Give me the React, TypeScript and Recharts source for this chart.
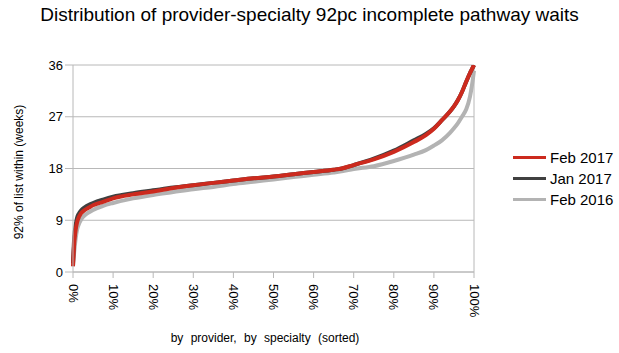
import React from 'react';
import { LineChart, Line, XAxis, YAxis, CartesianGrid, ReferenceLine } from 'recharts';

// percentile of provider-specialties (sorted)
const pct = [0, 0.3, 0.7, 1, 1.5, 2, 3, 4, 5, 7.5, 10, 15, 20, 25, 30, 35, 40, 45, 50, 55, 60, 65, 67, 70, 75, 80, 85, 88, 90, 92, 94, 95, 96, 97, 98, 99, 99.5, 100];

const feb2017 = [1, 5, 7.5, 8.6, 9.6, 10.2, 10.8, 11.2, 11.6, 12.2, 12.8, 13.5, 14.0, 14.6, 15.1, 15.5, 15.9, 16.3, 16.6, 17.0, 17.4, 17.8, 18.0, 18.6, 19.6, 20.9, 22.6, 23.8, 24.9, 26.4, 27.9, 28.8, 29.9, 31.3, 33.0, 34.6, 35.3, 36];
const jan2017 = [1.5, 6, 8.3, 9.4, 10.2, 10.7, 11.3, 11.7, 12.0, 12.6, 13.1, 13.7, 14.2, 14.7, 15.1, 15.5, 15.9, 16.3, 16.6, 17.0, 17.4, 17.8, 18.0, 18.6, 19.7, 21.1, 22.9, 24.0, 25.0, 26.4, 27.9, 28.8, 29.9, 31.3, 33.0, 34.6, 35.3, 36];
const feb2016 = [1, 3.5, 6, 7.3, 8.4, 9.1, 9.9, 10.4, 10.8, 11.5, 12.0, 12.8, 13.4, 13.9, 14.4, 14.8, 15.3, 15.7, 16.1, 16.5, 16.9, 17.3, 17.5, 17.9, 18.4, 19.3, 20.4, 21.2, 22.0, 22.9, 24.2, 25.0, 25.9, 27.0, 28.2, 30.5, 32.5, 35];

const xTicks = [0, 10, 20, 30, 40, 50, 60, 70, 80, 90, 100];
const yTicks = [0, 9, 18, 27, 36];

const series = [
  { key: 'feb2017', name: 'Feb 2017', color: '#cc2a1e' },
  { key: 'jan2017', name: 'Jan 2017', color: '#404040' },
  { key: 'feb2016', name: 'Feb 2016', color: '#b3b3b3' },
];

const data = pct.map((p, i) => ({ p, feb2017: feb2017[i], jan2017: jan2017[i], feb2016: feb2016[i] }));

const font = '"Liberation Sans", Arial, sans-serif';
const gridColor = '#b8b8b8';

const XTick = (props: any) => {
  const { x, y, payload } = props;
  return (
    <text x={x} y={y + 4} transform={`rotate(90 ${x} ${y + 4})`} textAnchor="start" dominantBaseline="central"
      fontSize={13} fontFamily={font} fill="#000">
      {`${payload.value}%`}
    </text>
  );
};

export default function App() {
  return (
    <div style={{ position: 'absolute', left: 0, top: 0, width: 619, height: 353, background: '#fff', fontFamily: font }}>
      <div style={{ position: 'absolute', left: 0, width: 619, top: 4, textAlign: 'center', fontSize: 19, color: '#000' }}>
        Distribution of provider-specialty 92pc incomplete pathway waits
      </div>
      <LineChart width={619} height={353} data={data} margin={{ top: 65, right: 145, bottom: 0, left: 0 }}>
        <CartesianGrid vertical={false} stroke={gridColor} />
        <XAxis dataKey="p" type="number" domain={[0, 100]} ticks={xTicks} interval={0}
          tick={<XTick />} tickLine={{ stroke: gridColor }} tickSize={6}
          axisLine={{ stroke: gridColor }} height={81} />
        <YAxis domain={[0, 36]} ticks={yTicks} interval={0} width={73} allowDataOverflow
          tick={{ fontSize: 13, fill: '#000', fontFamily: font }} tickLine={{ stroke: gridColor }} tickSize={8}
          axisLine={{ stroke: gridColor }} />
        <ReferenceLine x={100} stroke={gridColor} />
        {[...series].reverse().map((s) => (
          <Line key={s.key} type="monotone" dataKey={s.key} name={s.name} stroke={s.color}
            strokeWidth={4} dot={false} isAnimationActive={false} />
        ))}
      </LineChart>
      <div style={{ position: 'absolute', left: 19, top: 172, transform: 'translate(-50%, -50%) rotate(-90deg)', whiteSpace: 'nowrap', fontSize: 12, color: '#000' }}>
        92% of list within (weeks)
      </div>
      <div style={{ position: 'absolute', left: 265, top: 338, transform: 'translate(-50%, -50%)', whiteSpace: 'nowrap', fontSize: 12, color: '#000', wordSpacing: 4 }}>
        by provider, by specialty (sorted)
      </div>
      <div style={{ position: 'absolute', left: 513, top: 147 }}>
        {series.map((s) => (
          <div key={s.key} style={{ display: 'flex', alignItems: 'center', height: 21 }}>
            <div style={{ width: 33, height: 3, background: s.color, marginRight: 4 }} />
            <span style={{ fontSize: 15, color: '#000' }}>{s.name}</span>
          </div>
        ))}
      </div>
    </div>
  );
}
